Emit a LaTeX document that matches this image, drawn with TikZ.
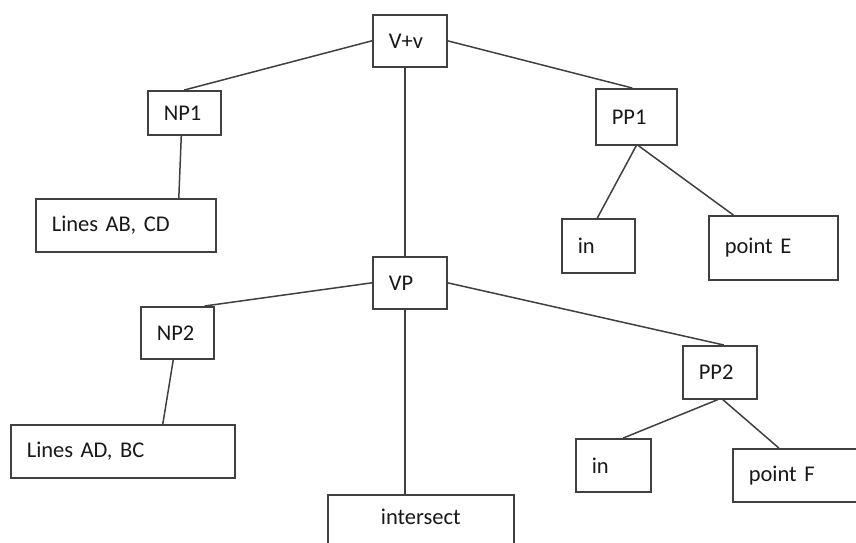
\documentclass[tikz,border=0pt]{standalone}
\usepackage{fontspec}
\setmainfont{Carlito}
\usepackage{tikz}
\usetikzlibrary{positioning}

\tikzset{
    tbox/.style={draw=black!75, line width=1.6pt, anchor=north west, align=left,
        inner xsep=16pt, inner ysep=0pt, text=black!90,
        font=\fontsize{22.5}{27}\selectfont},
    branch/.style={draw=black!75, line width=1.5pt}
}

\begin{document}
\begin{tikzpicture}[x=1pt, y=-1pt]
    \fill[white] (0,0) rectangle (856,542);
    \useasboundingbox (0,0) rectangle (856,542);

    % Top level
    \node[tbox, text width=42pt, minimum height=52pt] (vv) at (372,14) {V+v};
    \node[tbox, text width=41pt, minimum height=44pt] (np1) at (147,90) {NP1};
    \node[tbox, text width=49pt, minimum height=56pt] (pp1) at (595,88) {PP1};
    \node[tbox, text width=148pt, minimum height=53pt] (lab) at (35,198) {Lines AB, CD};
    \node[tbox, text width=41pt, minimum height=54pt] (in1) at (561,218) {in};
    \node[tbox, text width=97pt, minimum height=64pt] (pe) at (708,215) {point E};

    % Verb phrase
    \node[tbox, text width=42pt, minimum height=52pt] (vp) at (372,256) {VP};
    \node[tbox, text width=41pt, minimum height=52pt] (np2) at (140,306) {NP2};
    \node[tbox, text width=192pt, minimum height=53pt] (lad) at (10,424) {Lines AD, BC};
    \node[tbox, text width=42pt, minimum height=53pt] (pp2) at (682,345) {PP2};
    \node[tbox, text width=43pt, minimum height=53pt] (in2) at (575,438) {in};
    \node[tbox, text width=92pt, minimum height=53pt] (pf) at (732,448) {point F};
    \node[tbox, text width=154pt, align=center, text height=15pt, text depth=45pt,
        inner ysep=15pt] (isect) at (327,494) {intersect};

    % Branches
    \draw[branch] (vv.west) -- (np1.north);
    \draw[branch] (vv.east) -- ([xshift=-4pt]pp1.north);
    \draw[branch] ([xshift=-5pt]vv.south) -- ([xshift=-5pt]vp.north);
    \draw[branch] ([xshift=-3pt]np1.south) -- ([xshift=53pt]lab.north);
    \draw[branch] (pp1.south) -- ([xshift=-1pt]in1.north);
    \draw[branch] ([xshift=2pt]pp1.south) -- ([xshift=-40pt]pe.north);
    \draw[branch] (vp.west) -- ([xshift=-10pt]np2.north east);
    \draw[branch] (vp.east) -- ([xshift=4pt]pp2.north);
    \draw[branch] ([xshift=-5pt]vp.south) -- ([xshift=-5pt]vp.south |- isect.north);
    \draw[branch] ([xshift=-4pt]np2.south) -- ([xshift=40pt]lad.north);
    \draw[branch] ([xshift=-2pt]pp2.south) -- ([xshift=10pt]in2.north);
    \draw[branch] ([xshift=3pt]pp2.south) -- ([xshift=-16pt]pf.north);
\end{tikzpicture}
\end{document}
